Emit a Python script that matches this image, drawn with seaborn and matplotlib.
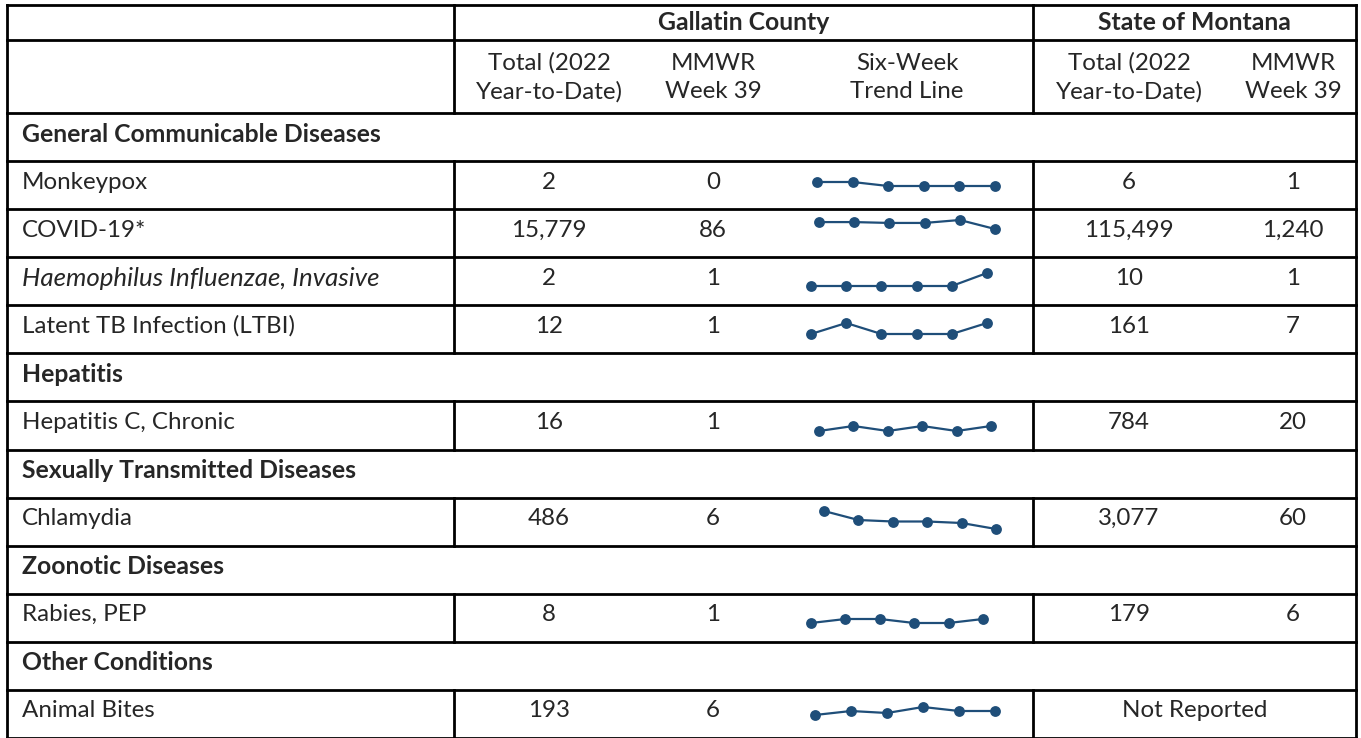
import numpy as np
import pandas as pd

import seaborn as sns
import matplotlib.pyplot as plt


# Table content
groups = ["General Communicable Diseases", "Hepatitis",
    "Sexually Transmitted Diseases", "Zoonotic Diseases", "Other Conditions"]
conditions = ["Monkeypox", "COVID-19*", "Haemophilus Influenzae, Invasive",
    "Latent TB Infection (LTBI)", "Hepatitis C, Chronic", "Chlamydia",
    "Rabies, PEP", "Animal Bites"]
condition_group = [0, 0, 0, 0, 1, 2, 3, 4]
italic_conditions = ["Haemophilus Influenzae, Invasive"]

county_ytd = ["2", "15,779", "2", "12", "16", "486", "8", "193"]
county_week = ["0", "86", "1", "1", "1", "6", "1", "6"]
state_ytd = ["6", "115,499", "10", "161", "784", "3,077", "179", None]
state_week = ["1", "1,240", "1", "7", "20", "60", "6", None]

# Six-week trend (weeks 34-39), estimated from the sparklines
trend_weeks = [34, 35, 36, 37, 38, 39]
trend_monkeypox = [1, 1, 0, 0, 0, 0]
trend_covid = [126, 126, 121, 121, 138, 86]
trend_haemophilus = [0, 0, 0, 0, 0, 1]
trend_ltbi = [0, 1, 0, 0, 0, 1]
trend_hepc = [0, 1, 0, 1, 0, 1]
trend_chlamydia = [18, 12, 11, 11, 10, 6]
trend_rabies = [0, 1, 1, 0, 0, 1]
trend_bites = [4, 6, 5, 8, 6, 6]
trends = [trend_monkeypox, trend_covid, trend_haemophilus, trend_ltbi,
    trend_hepc, trend_chlamydia, trend_rabies, trend_bites]

header_groups = ["Gallatin County", "State of Montana"]
header_cols = [("Total (2022", "Year-to-Date)"), ("MMWR", "Week 39"),
    ("Six-Week", "Trend Line"), ("Total (2022", "Year-to-Date)"),
    ("MMWR", "Week 39")]

# Layout in pixels
W, H = 1361, 738
x_left, x_split1, x_split2, x_right = 7, 454, 1033, 1356
col_x = [549, 713, 907, 1129, 1293]
y_top, y_head1, y_head2 = 5, 40, 113
row_h = (H - y_head2) / 13
# sparkline extent per condition: x first, x last, y top, y bottom
spark_boxes = [(817, 995, 182, 186), (819, 995, 220, 229),
    (811, 987, 273, 286), (811, 987, 323, 334), (819, 991, 426, 431),
    (824, 996, 511, 529), (811, 983, 619, 623), (815, 995, 707, 715)]

LINE = dict(color="black", lw=2.0, solid_capstyle="projecting")
SPARK = "#1F4E79"
FS = 17.4
FS_BOLD = 17.8
FS_ITALIC = 18.6

sns.set_theme(style="white")
plt.rcParams["font.family"] = ["Lato", "DejaVu Sans"]

fig = plt.figure(figsize=(W / 100, H / 100), dpi=100)
tab = fig.add_axes([0, 0, 1, 1])
tab.set_xlim(0, W)
tab.set_ylim(H, 0)
tab.axis("off")

# Header
for y in [y_top, y_head1, y_head2]:
    tab.plot([x_left, x_right], [y, y], **LINE)
for x in [x_left, x_right]:
    tab.plot([x, x], [y_top, H], **LINE)
for x in [x_split1, x_split2]:
    tab.plot([x, x], [y_top, y_head2], **LINE)
tab.text((x_split1 + x_split2) / 2, 23, header_groups[0], fontsize=FS_BOLD,
    fontweight="bold", ha="center", va="center")
tab.text((x_split2 + x_right) / 2, 23, header_groups[1], fontsize=FS_BOLD,
    fontweight="bold", ha="center", va="center")
for cx, (l1, l2) in zip(col_x, header_cols):
    tab.text(cx, 63, l1, fontsize=FS, ha="center", va="center")
    tab.text(cx, 92, l2, fontsize=FS, ha="center", va="center")

# Body rows
rows = []
for g, name in enumerate(groups):
    rows.append(("group", g))
    rows += [("cond", i) for i, cg in enumerate(condition_group) if cg == g]

for r, (kind, idx) in enumerate(rows):
    top = y_head2 + r * row_h
    bottom = top + row_h
    ty = top + 21
    tab.plot([x_left, x_right], [bottom, bottom], **LINE)
    if kind == "group":
        tab.text(22, ty, groups[idx], fontsize=FS_BOLD, fontweight="bold",
            ha="left", va="center")
        continue
    for x in [x_split1, x_split2]:
        tab.plot([x, x], [top, bottom], **LINE)
    name = conditions[idx]
    if name in italic_conditions:
        tab.text(22, ty, name, fontsize=FS_ITALIC, ha="left", va="center",
            style="italic")
    else:
        tab.text(22, ty, name, fontsize=FS, ha="left", va="center")
    tab.text(col_x[0], ty, county_ytd[idx], fontsize=FS, ha="center", va="center")
    tab.text(col_x[1], ty, county_week[idx], fontsize=FS, ha="center", va="center")
    if state_ytd[idx] is None:
        tab.text((x_split2 + x_right) / 2, ty, "Not Reported", fontsize=FS,
            ha="center", va="center")
    else:
        tab.text(col_x[3], ty, state_ytd[idx], fontsize=FS, ha="center", va="center")
        tab.text(col_x[4], ty, state_week[idx], fontsize=FS, ha="center", va="center")

    # Sparkline
    x0, x1, yt, yb = spark_boxes[idx]
    ax = fig.add_axes([x0 / W, 1 - yb / H, (x1 - x0) / W, (yb - yt) / H])
    df = pd.DataFrame({"week": trend_weeks, "cases": trends[idx]})
    sns.lineplot(data=df, x="week", y="cases", ax=ax, color=SPARK,
        marker="o", markersize=7.8, markeredgewidth=0, linewidth=1.6)
    ax.set_xlim(min(trend_weeks), max(trend_weeks))
    ax.set_ylim(min(trends[idx]), max(trends[idx]))
    ax.axis("off")
    for line in ax.lines:
        line.set_clip_on(False)

fig.savefig("out.png", dpi=100)
